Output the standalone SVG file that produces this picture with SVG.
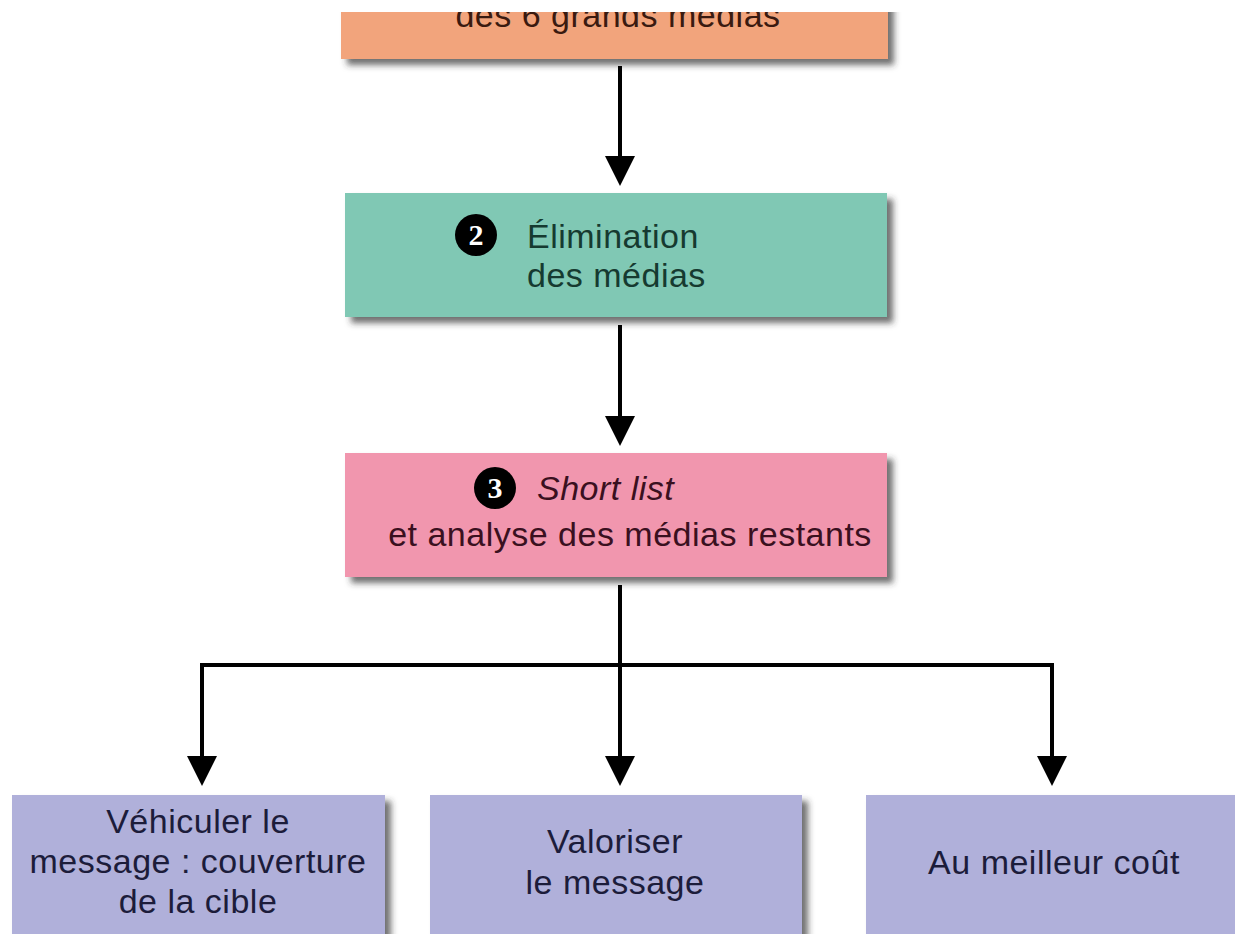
<svg xmlns="http://www.w3.org/2000/svg" width="1235" height="934" viewBox="0 0 1235 934">
<defs>
<style>
.t{font-family:"Liberation Sans",Arial,sans-serif;font-size:34px;letter-spacing:0.5px}
.c{text-anchor:middle}
.ln{stroke:#000;stroke-width:4;fill:none}
.badge{fill:#000}
.bt{font-family:"Liberation Serif",serif;font-weight:bold;font-size:30px;fill:#fff;text-anchor:middle}
</style>
<filter id="sh" x="-5%" y="-10%" width="115%" height="130%">
<feDropShadow dx="6" dy="6" stdDeviation="3" flood-color="#333" flood-opacity="0.7"/>
</filter>
<path id="head" d="M-15,-30 L15,-30 L0,0 Z" fill="#000"/>
</defs>
<rect width="1235" height="934" fill="#fff"/>
<g id="node1">
<rect x="341" y="-40" width="547" height="99" fill="#f2a47c" filter="url(#sh)"/>
<text class="t c" x="618" y="27" fill="#3a1a10">des 6 grands médias</text>
<rect x="0" y="0" width="1235" height="12" fill="#fff"/>
</g>
<g id="node2">
<rect x="345" y="193" width="542" height="124" fill="#80c8b4" filter="url(#sh)"/>
<circle class="badge" cx="476" cy="235" r="21"/>
<text class="bt" x="476" y="245">2</text>
<text class="t" x="527" y="248" fill="#163a30">Élimination</text>
<text class="t" x="527" y="287" fill="#163a30">des médias</text>
</g>
<g id="node3">
<rect x="345" y="453" width="542" height="124" fill="#f196ae" filter="url(#sh)"/>
<circle class="badge" cx="495" cy="488" r="21"/>
<text class="bt" x="495" y="498">3</text>
<text class="t" x="537" y="500" font-style="italic" fill="#3a1020">Short list</text>
<text class="t c" x="630" y="546" fill="#3a1020">et analyse des médias restants</text>
</g>
<g id="node4">
<rect x="12" y="795" width="373" height="160" fill="#b0b0da" filter="url(#sh)"/>
<text class="t c" x="198" y="833" fill="#1c1c3a">Véhiculer le</text>
<text class="t c" x="198" y="873" fill="#1c1c3a">message : couverture</text>
<text class="t c" x="198" y="913" fill="#1c1c3a">de la cible</text>
</g>
<g id="node5">
<rect x="430" y="795" width="372" height="160" fill="#b0b0da" filter="url(#sh)"/>
<text class="t c" x="615" y="853" fill="#1c1c3a">Valoriser</text>
<text class="t c" x="615" y="894" fill="#1c1c3a">le message</text>
</g>
<g id="node6">
<rect x="866" y="795" width="380" height="160" fill="#b0b0da" filter="url(#sh)"/>
<text class="t c" x="1054" y="874" fill="#1c1c3a">Au meilleur coût</text>
</g>
<g id="connectors">
<line class="ln" x1="620" y1="66" x2="620" y2="160"/>
<use href="#head" x="620" y="186"/>
<line class="ln" x1="620" y1="325" x2="620" y2="420"/>
<use href="#head" x="620" y="446"/>
<line class="ln" x1="620" y1="585" x2="620" y2="760"/>
<polyline class="ln" points="202,760 202,665 1052,665 1052,760"/>
<use href="#head" x="202" y="786"/>
<use href="#head" x="620" y="786"/>
<use href="#head" x="1052" y="786"/>
</g>
</svg>
